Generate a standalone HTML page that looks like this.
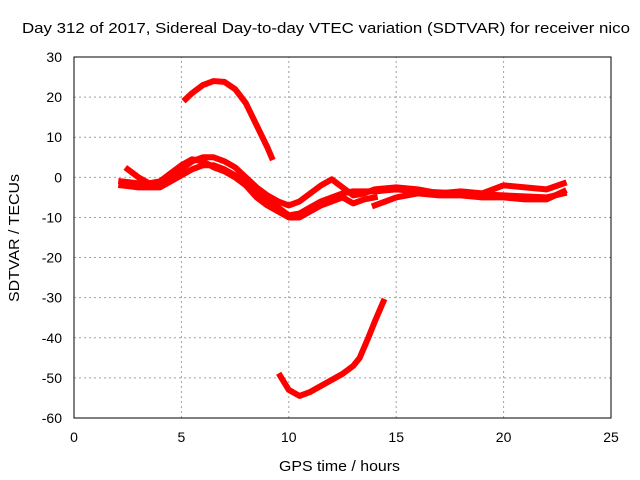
<!DOCTYPE html>
<html><head><meta charset="utf-8"><style>
body{margin:0;background:#fff;}
svg{display:block;font-family:"Liberation Sans",sans-serif;}
</style></head><body>
<svg id="chart" width="640" height="480" viewBox="0 0 640 480">
<rect width="640" height="480" fill="#fff"/>
<text x="22" y="33" font-size="15" textLength="608" lengthAdjust="spacingAndGlyphs">Day 312 of 2017, Sidereal Day-to-day VTEC variation (SDTVAR) for receiver nico</text>
<text x="279" y="471" font-size="15" textLength="121" lengthAdjust="spacingAndGlyphs">GPS time / hours</text>
<text transform="translate(19,302) rotate(-90)" font-size="15" textLength="128" lengthAdjust="spacingAndGlyphs">SDTVAR / TECUs</text>
<g id="grid"></g><g id="ticks"></g><g id="series"></g>
<rect x="74" y="57" width="537" height="361" fill="none" stroke="#000" stroke-width="1"/>
</svg>
<script>
const xTicks=[0,5,10,15,20,25];
const yTicks=[30,20,10,0,-10,-20,-30,-40,-50,-60];
const seriesArc=[[5.2,19.5],[5.5,21],[6,23],[6.5,24],[7,23.8],[7.5,22],[8,18.5],[8.5,13],[9,7.5],[9.2,5]];
const seriesLow=[[9.6,-49.5],[10,-53],[10.5,-54.5],[11,-53.5],[11.5,-52],[12,-50.5],[12.5,-49],[13,-47],[13.3,-45],[13.7,-40],[14,-36],[14.4,-31]];
const series1=[[2.2,-1],[3,-1.5],[3.5,-2],[4,-1.5],[4.5,0],[5,2],[5.5,4],[6,5],[6.5,5],[7,4],[7.5,2.5],[8,0],[8.5,-2.5],[9,-4.5],[9.5,-6],[10,-7],[10.5,-6],[11,-4],[11.5,-2],[12,-0.5],[12.5,-2.5],[13,-4.5],[13.5,-4],[14,-3],[15,-2.5],[16,-3],[17,-4],[18,-3.5],[19,-4],[20,-2],[21,-2.5],[22,-3],[22.8,-1.5]];
const series2=[[2.2,-2],[3,-2.5],[4,-2.5],[4.5,-1],[5,0.5],[5.5,2],[6,3],[6.5,3],[7,2],[7.5,0.5],[8,-1.5],[8.5,-4],[9,-6],[9.5,-7.5],[10,-9.5],[10.5,-9],[11,-7.5],[11.5,-6],[12,-5],[12.5,-4],[13,-3.5],[14,-3.5],[15,-3],[16,-3.5],[18,-4],[20,-4.5],[22,-5],[22.8,-4]];
const series3=[[2.5,2],[3,0],[3.5,-1.5],[4,-1],[4.5,1],[5,3],[5.5,4.5],[6,4],[6.5,2.5],[7,1.5],[7.5,0],[8,-2],[8.5,-5],[9,-7],[9.5,-8.5],[10,-10],[10.5,-10],[11,-8.5],[11.5,-7],[12,-6],[12.5,-5],[13,-6.5],[13.5,-5.5],[14,-5]];
const series4=[[14,-7],[14.5,-6],[15,-5],[16,-4],[17,-4.5],[18,-4.5],[19,-5],[20,-5],[21,-5.5],[22,-5.5],[22.8,-3.5]];
const allSeries=[series1,series2,series3,series4,seriesArc,seriesLow];
const X0=74,X1=611,Y0=418,Y1=57;
const xs=v=>X0+(v-0)/25*(X1-X0);
const ys=v=>Y0-(v+60)/90*(Y0-Y1);
const NS='http://www.w3.org/2000/svg';
const grid=document.getElementById('grid'),ticks=document.getElementById('ticks'),ser=document.getElementById('series');
function mk(tag,attrs,parent){const e=document.createElementNS(NS,tag);for(const k in attrs)e.setAttribute(k,attrs[k]);parent.appendChild(e);return e;}
xTicks.forEach(t=>{const x=xs(t);
 if(t>0&&t<25){const g=mk('line',{x1:x,x2:x,y1:Y0,y2:Y1,stroke:'#a0a0a0','stroke-dasharray':'2,3','stroke-width':1},grid);
 
 }
 const l=mk('text',{x:x,y:Y0+24,'font-size':14,'text-anchor':'middle'},ticks);l.textContent=t;
 
 });
yTicks.forEach(t=>{const y=ys(t);
 if(t>-60&&t<30){const g=mk('line',{x1:X0,x2:X1,y1:y,y2:y,stroke:'#a0a0a0','stroke-dasharray':'2,3','stroke-width':1},grid);
 
 }
 const l=mk('text',{x:X0-12,y:y+5,'font-size':14,'text-anchor':'end'},ticks);l.textContent=t;
 
 });
allSeries.forEach((s,i)=>{
 const p=mk('polyline',{points:s.map(d=>xs(d[0])+','+ys(d[1])).join(' '),fill:'none',stroke:'#ff0000','stroke-width':6,'stroke-linejoin':'round','stroke-linecap':'square'},ser);
 
 });
</script>
</body></html>
